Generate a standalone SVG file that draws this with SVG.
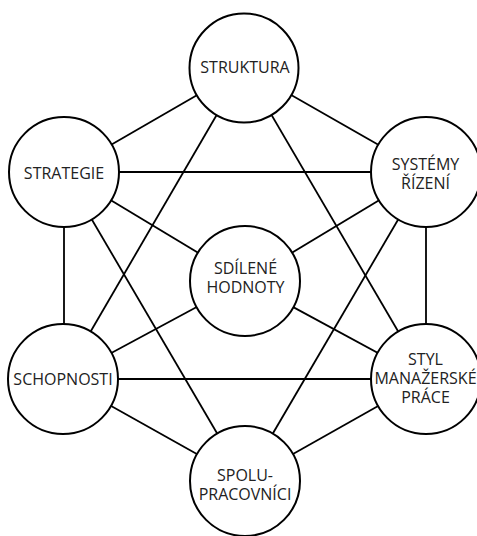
<svg xmlns="http://www.w3.org/2000/svg" width="477" height="536" viewBox="0 0 477 536">
<style>
.c{fill:#fff;stroke:#000;stroke-width:2}
.l{stroke:#000;stroke-width:1.8;fill:none}
.t{font-family:"Open Sans","Noto Sans",sans-serif;font-size:16px;fill:#222;text-anchor:middle}
</style>
<rect width="477" height="536" fill="#fff"/>
<g id="connectors" class="l">
<line x1="244" y1="68" x2="64" y2="172"/>
<line x1="244" y1="68" x2="426" y2="172"/>
<line x1="244" y1="68" x2="63" y2="379"/>
<line x1="244" y1="68" x2="426" y2="379"/>
<line x1="64" y1="172" x2="426" y2="172"/>
<line x1="64" y1="172" x2="245" y2="281"/>
<line x1="64" y1="172" x2="64" y2="379"/>
<line x1="64" y1="172" x2="245" y2="481"/>
<line x1="426" y1="172" x2="245" y2="281"/>
<line x1="426" y1="172" x2="426" y2="379"/>
<line x1="426" y1="172" x2="245" y2="481"/>
<line x1="245" y1="281" x2="63" y2="379"/>
<line x1="245" y1="281" x2="426" y2="379"/>
<line x1="63" y1="379" x2="426" y2="379"/>
<line x1="63" y1="379" x2="245" y2="481"/>
<line x1="426" y1="379" x2="245" y2="481"/>
</g>
<g id="struktura"><circle class="c" cx="244" cy="68" r="54.5"/><text class="t" x="245" y="73">STRUKTURA</text></g>
<g id="strategie"><circle class="c" cx="64" cy="172" r="55"/><text class="t" x="64" y="179">STRATEGIE</text></g>
<g id="systemy"><circle class="c" cx="426" cy="172" r="55"/><text class="t" x="425.5" y="170">SYSTÉMY</text><text class="t" x="425.5" y="189">ŘÍZENÍ</text></g>
<g id="sdilene"><circle class="c" cx="245" cy="281" r="55"/><text class="t" x="245.5" y="274">SDÍLENÉ</text><text class="t" x="245.5" y="293">HODNOTY</text></g>
<g id="schopnosti"><circle class="c" cx="63" cy="379" r="55"/><text class="t" x="63" y="384.5">SCHOPNOSTI</text></g>
<g id="styl"><circle class="c" cx="426" cy="379" r="55"/><text class="t" x="425.5" y="365">STYL</text><text class="t" x="425.5" y="384">MANAŽERSKÉ</text><text class="t" x="425.5" y="403">PRÁCE</text></g>
<g id="spolupracovnici"><circle class="c" cx="245" cy="481" r="55"/><text class="t" x="245" y="481">SPOLU-</text><text class="t" x="245" y="500">PRACOVNÍCI</text></g>
</svg>
